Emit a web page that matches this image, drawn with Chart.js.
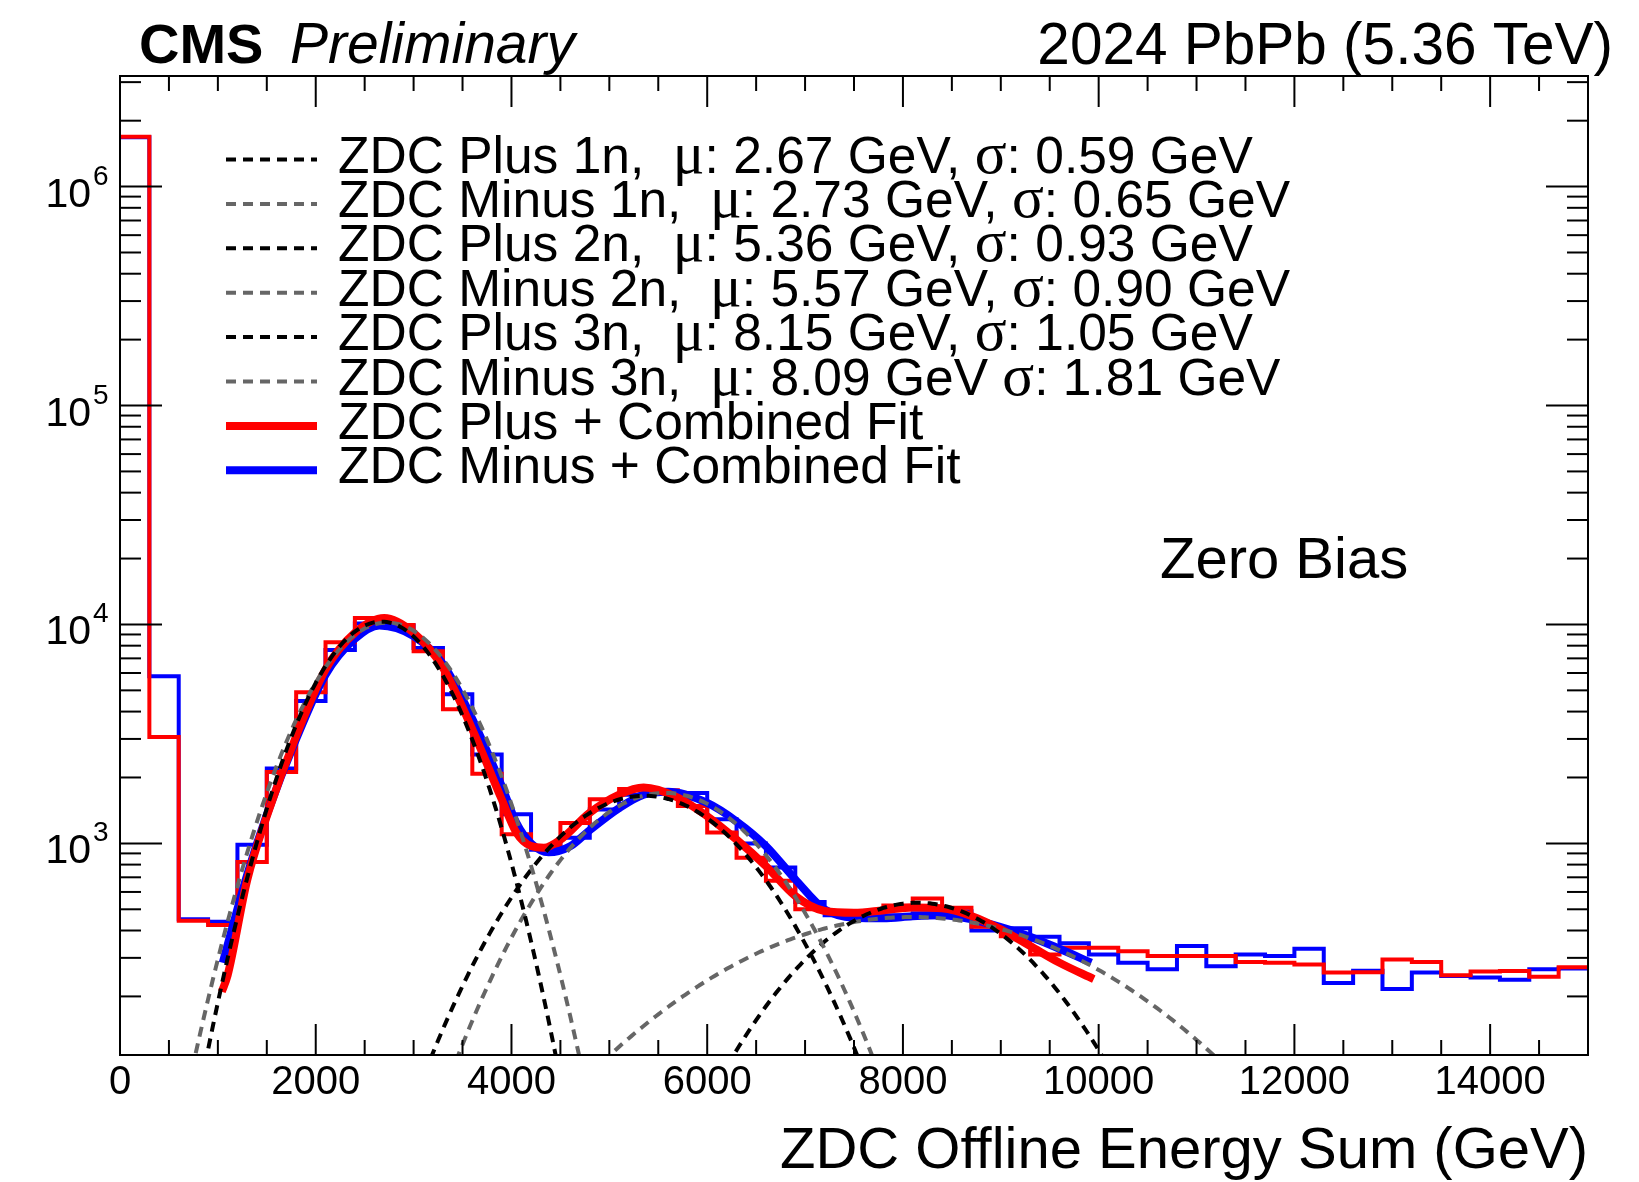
<!DOCTYPE html>
<html>
<head>
<meta charset="utf-8">
<script src="https://cdn.jsdelivr.net/npm/chart.js@4.4.1/dist/chart.umd.min.js"></script>
<style>
  body { margin: 0; background: #fff; }
  canvas { display: block; }
</style>
</head>
<body>
<canvas id="zdc" width="1639" height="1182"></canvas>
<script>
// histogram binning (GeV)
const binWidth = 300;
const xMin = 0, xMax = 15000;
const yMin = 108, yMax = 3.2e6;

// ZDC Plus (red) and ZDC Minus (blue), counts per 300 GeV bin
const zdcPlus = [
    1.69e6, 3060, 443, 424, 822, 2120, 4900, 8300, 10700, 9950,
    7550, 4100, 2080, 1100, 965, 1240, 1590, 1770, 1750, 1480,
    1120, 860, 675, 500, 490, 482, 520, 560, 508, 416,
    377, 311, 334, 334, 322, 306, 306, 306, 287, 285,
    280, 257, 258, 295, 287, 250, 260, 261, 246, 272
];
const zdcMinus = [
    1.68e6, 5800, 450, 439, 985, 2200, 4470, 7650, 10100, 9900,
    7800, 4800, 2550, 1360, 935, 1060, 1430, 1670, 1720, 1700,
    1290, 1000, 775, 540, 470, 460, 470, 480, 490, 400,
    410, 375, 350, 311, 285, 266, 340, 275, 311, 306,
    330, 230, 262, 216, 257, 248, 244, 238, 266, 268
];

// combined fit curves [GeV, counts]
const plusFitX = [1040, 1100, 1300, 1500, 1800, 2100, 2400, 2700, 3000, 3300, 3600, 3900, 4050, 4200, 4330, 4500, 4800, 5100, 5350, 5700, 6000, 6300, 6600, 6900, 7200, 7500, 7800, 8100, 8400, 8700, 9000, 9300, 9600, 9950];
const plusFitY = [210, 250, 680, 1330, 3090, 6230, 9160, 10700, 9160, 6340, 3320, 1590, 1120, 972, 955, 1040, 1380, 1670, 1800, 1620, 1330, 1040, 788, 575, 491, 482, 495, 510, 505, 466, 405, 340, 285, 240];
const minusFitX = [1050, 1300, 1500, 1800, 2100, 2400, 2650, 3000, 3300, 3600, 3900, 4050, 4200, 4380, 4600, 4800, 5100, 5350, 5600, 6000, 6300, 6600, 6900, 7200, 7500, 7800, 8100, 8400, 8700, 9000, 9300, 9600, 9925];
const minusFitY = [285, 720, 1350, 3000, 5900, 8600, 9900, 8850, 6600, 3700, 1830, 1240, 1000, 910, 970, 1150, 1450, 1670, 1720, 1530, 1260, 972, 685, 500, 458, 455, 465, 470, 450, 415, 375, 330, 285];

// single-neutron peak components (legend values, TeV scale) and fitted peak heights
const compLabels = [
    'ZDC Plus 1n,  \u03bc: 2.67 GeV, \u03c3: 0.59 GeV',
    'ZDC Minus 1n,  \u03bc: 2.73 GeV, \u03c3: 0.65 GeV',
    'ZDC Plus 2n,  \u03bc: 5.36 GeV, \u03c3: 0.93 GeV',
    'ZDC Minus 2n,  \u03bc: 5.57 GeV, \u03c3: 0.90 GeV',
    'ZDC Plus 3n,  \u03bc: 8.15 GeV, \u03c3: 1.05 GeV',
    'ZDC Minus 3n,  \u03bc: 8.09 GeV \u03c3: 1.81 GeV'
];
const compMu = [2.67, 2.73, 5.36, 5.57, 8.15, 8.09];
const compSigma = [0.59, 0.65, 0.93, 0.90, 1.05, 1.81];
const compPeak = [10300, 10200, 1650, 1700, 536, 461];
const compColor = ['#000000', '#666666', '#000000', '#666666', '#000000', '#666666'];

const fitLabels = ['ZDC Plus + Combined Fit', 'ZDC Minus + Combined Fit'];

const RED = '#ff0000', BLUE = '#0000ff';

function histPoints(vals) {
    const pts = vals.map((v, i) => ({ x: i * binWidth, y: v }));
    pts.push({ x: xMax, y: vals[vals.length - 1] });
    return pts;
}

function fitPoints(xs, ys) {
    return xs.map((x, i) => ({ x: x, y: ys[i] }));
}

// gaussian from the fitted mean/width, kept a bit below the frame so it runs off the bottom
function gausPoints(k) {
    const mu = compMu[k] * 1000, sig = compSigma[k] * 1000;
    const pts = [];
    for (let x = xMin; x <= xMax; x += 25) {
        const v = compPeak[k] * Math.exp(-0.5 * Math.pow((x - mu) / sig, 2));
        if (v > 30) pts.push({ x: x, y: v });
    }
    return pts;
}

const datasets = [];
for (let k = 0; k < 6; k++) {
    datasets.push({
        data: gausPoints(k),
        borderColor: compColor[k],
        borderWidth: 4,
        borderDash: [10, 7],
        tension: 0,
        clip: 0
    });
}
datasets.push({ data: fitPoints(plusFitX, plusFitY), borderColor: RED, borderWidth: 8, cubicInterpolationMode: 'monotone', clip: 0 });
datasets.push({ data: fitPoints(minusFitX, minusFitY), borderColor: BLUE, borderWidth: 8, cubicInterpolationMode: 'monotone', clip: 0 });
// 'before' = horizontal across the bin first, then the vertical edge
datasets.push({ data: histPoints(zdcPlus), borderColor: RED, borderWidth: 4, stepped: 'before', borderJoinStyle: 'miter', clip: 0 });
datasets.push({ data: histPoints(zdcMinus), borderColor: BLUE, borderWidth: 4, stepped: 'before', borderJoinStyle: 'miter', clip: 0 });

const SANS = '"Liberation Sans", Arial, Helvetica, sans-serif';
const SERIF = '"Liberation Serif", "Times New Roman", serif';

function drawRich(ctx, str, x, y, size) {
    let cx = x;
    for (const part of str.split(/([\u03bc\u03c3])/)) {
        if (!part) continue;
        ctx.font = /[\u03bc\u03c3]/.test(part) ? size * 1.15 + 'px ' + SERIF : size + 'px ' + SANS;
        ctx.fillText(part, cx, y);
        cx += ctx.measureText(part).width;
    }
}

// ROOT-style frame: inward ticks on all four sides, labels, legend and captions
const rootFrame = {
    id: 'rootFrame',
    afterDatasetsDraw(chart) {
        const { ctx, chartArea: a, scales } = chart;
        const x = scales.x, y = scales.y;
        ctx.save();
        ctx.strokeStyle = '#000';
        ctx.fillStyle = '#000';
        ctx.lineWidth = 2;
        ctx.setLineDash([]);
        ctx.strokeRect(a.left, a.top, a.right - a.left, a.bottom - a.top);

        const seg = (x1, y1, x2, y2) => {
            ctx.beginPath(); ctx.moveTo(x1, y1); ctx.lineTo(x2, y2); ctx.stroke();
        };

        // x ticks
        ctx.textAlign = 'center';
        ctx.textBaseline = 'alphabetic';
        ctx.font = '40px ' + SANS;
        for (let v = xMin; v <= xMax; v += 500) {
            const px = x.getPixelForValue(v);
            const major = v % 2000 === 0;
            const len = major ? 31 : 15;
            seg(px, a.bottom, px, a.bottom - len);
            seg(px, a.top, px, a.top + len);
            if (major) ctx.fillText(String(v), px, 1094);
        }

        // y ticks (log)
        for (let e = 2; e <= 6; e++) {
            for (let m = 1; m <= 9; m++) {
                const v = m * Math.pow(10, e);
                if (v < yMin || v > yMax) continue;
                const py = y.getPixelForValue(v);
                const len = m === 1 ? 42 : 21;
                seg(a.left, py, a.left + len, py);
                seg(a.right, py, a.right - len, py);
                if (m === 1) {
                    ctx.textAlign = 'right';
                    ctx.font = '41px ' + SANS;
                    ctx.fillText('10', 91, py + 20);
                    ctx.textAlign = 'left';
                    ctx.font = '28px ' + SANS;
                    ctx.fillText(String(e), 93, py - 2);
                }
            }
        }

        // legend
        const rowY0 = 159.5, rowStep = 44.4;
        for (let k = 0; k < 8; k++) {
            const ly = rowY0 + k * rowStep;
            ctx.beginPath();
            if (k < 6) {
                ctx.strokeStyle = compColor[k];
                ctx.lineWidth = 4;
                ctx.setLineDash([10, 7]);
            } else {
                ctx.strokeStyle = k === 6 ? RED : BLUE;
                ctx.lineWidth = 8;
                ctx.setLineDash([]);
            }
            ctx.moveTo(226, ly);
            ctx.lineTo(317, ly);
            ctx.stroke();
            ctx.setLineDash([]);
            ctx.textAlign = 'left';
            ctx.fillStyle = '#000';
            drawRich(ctx, k < 6 ? compLabels[k] : fitLabels[k - 6], 338, ly + 13, 51.5);
        }

        // captions
        ctx.textAlign = 'left';
        ctx.font = 'bold 56px ' + SANS;
        ctx.fillText('CMS', 139, 63);
        ctx.font = 'italic 57px ' + SANS;
        ctx.fillText('Preliminary', 290, 63);
        ctx.textAlign = 'right';
        ctx.font = '58.5px ' + SANS;
        ctx.fillText('2024 PbPb (5.36 TeV)', 1613, 64);
        ctx.textAlign = 'left';
        ctx.font = '58px ' + SANS;
        ctx.fillText('Zero Bias', 1160, 578);
        ctx.textAlign = 'right';
        ctx.font = '58px ' + SANS;
        ctx.fillText('ZDC Offline Energy Sum (GeV)', a.right, 1168);
        ctx.restore();
    }
};

new Chart(document.getElementById('zdc'), {
    type: 'line',
    data: { datasets: datasets },
    options: {
        responsive: false,
        animation: false,
        layout: { padding: { left: 120, right: 51, top: 76, bottom: 127 } },
        elements: { point: { radius: 0 } },
        scales: {
            x: { type: 'linear', min: xMin, max: xMax, display: false },
            y: { type: 'logarithmic', min: yMin, max: yMax, display: false }
        },
        plugins: {
            legend: { display: false },
            tooltip: { enabled: false }
        }
    },
    plugins: [rootFrame]
});
</script>
</body>
</html>
